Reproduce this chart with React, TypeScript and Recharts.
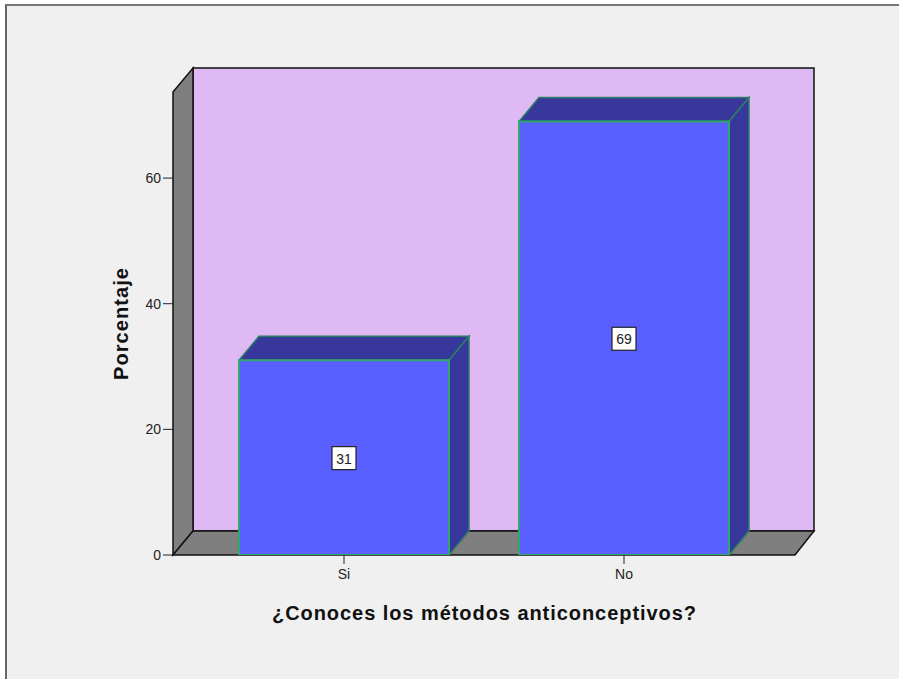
import React from "react";
import { ComposedChart, Bar, XAxis, YAxis, ReferenceArea, LabelList } from "recharts";

const categories = ["Si", "No"];
const percentages = [31, 69];
const yTicks = [0, 20, 40, 60];
const xTitle = "¿Conoces los métodos anticonceptivos?";
const yTitle = "Porcentaje";
const data = categories.map((name, i) => ({ name, value: percentages[i] }));

const DX = 20;
const DY = 24;
const FONT = "'Liberation Sans', Arial, sans-serif";

const Walls = (p: any) => {
  const { x, y, width: w, height: h } = p;
  const stroke = { stroke: "#111", strokeWidth: 1.5 };
  return (
    <g>
      <rect x={x + DX} y={y - DY} width={w - 1} height={h} fill="#dfb9f3" {...stroke} />
      <polygon points={`${x},${y} ${x + DX},${y - DY} ${x + DX},${y + h - DY} ${x},${y + h}`} fill="#7f7f7f" {...stroke} />
      <polygon points={`${x},${y + h} ${x + DX},${y + h - DY} ${x + w + DX - 1},${y + h - DY} ${x + w},${y + h}`} fill="#7f7f7f" {...stroke} />
    </g>
  );
};

const Bar3D = (p: any) => {
  const { x, y, width: w, height: h } = p;
  const back = { stroke: "#2a7f62", strokeWidth: 1.5 };
  return (
    <g>
      <polygon points={`${x},${y} ${x + DX},${y - DY} ${x + w + DX},${y - DY} ${x + w},${y}`} fill="#38389c" {...back} />
      <polygon points={`${x + w},${y} ${x + w + DX},${y - DY} ${x + w + DX},${y + h - DY} ${x + w},${y + h}`} fill="#38389c" {...back} />
      <rect x={x} y={y} width={w} height={h} fill="#5a60ff" stroke="#2fa86a" strokeWidth={2} />
    </g>
  );
};

const ValueBox = (p: any) => {
  const { x, y, width: w, height: h, value } = p;
  const cx = x + w / 2;
  const cy = y + h / 2;
  return (
    <g>
      <rect x={cx - 12} y={cy - 11} width={24} height={23} fill="#fff" stroke="#222" strokeWidth={1.2} />
      <text x={cx} y={cy + 6} textAnchor="middle" fontSize={14} fontFamily={FONT} fill="#222">{value}</text>
    </g>
  );
};

export default function App() {
  return (
    <div style={{ position: "absolute", left: 0, top: 0, width: 899, height: 679, background: "#fff", overflow: "hidden" }}>
      <div style={{ position: "absolute", left: 5, top: 4, width: 894, height: 675, background: "#f0f0f0", borderLeft: "2px solid #666", borderTop: "2px solid #777", boxSizing: "border-box" }} />
      <ComposedChart
        width={899}
        height={679}
        data={data}
        margin={{ top: 92, right: 104, bottom: 94, left: 113 }}
        style={{ position: "absolute", left: 0, top: 0 }}
      >
        <XAxis
          dataKey="name"
          tickSize={9}
          tickLine={{ stroke: "#222" }}
          axisLine={false}
          padding={{ left: 31, right: 31 }}
          tick={{ fontSize: 14, fontFamily: FONT, fill: "#222", dy: 3 }}
          height={30}
        />
        <YAxis
          domain={[0, 73.7]}
          ticks={yTicks}
          width={60}
          tickSize={10}
          tickLine={{ stroke: "#222" }}
          axisLine={false}
          tick={{ fontSize: 14, fontFamily: FONT, fill: "#222" }}
          allowDataOverflow
        />
        <ReferenceArea x1="Si" x2="No" y1={0} y2={73.7} shape={(p: any) => <Walls x={173} y={p.y} width={622} height={p.height} />} />
        <Bar dataKey="value" barSize={210} isAnimationActive={false} shape={<Bar3D />}>
          <LabelList dataKey="value" content={<ValueBox />} />
        </Bar>
        <text x={484} y={620} textAnchor="middle" fontSize={20} fontWeight={700} fontFamily={FONT} fill="#111" textLength={424}>{xTitle}</text>
        <text x={128} y={324} textAnchor="middle" fontSize={20} fontWeight={700} fontFamily={FONT} fill="#111" transform="rotate(-90 128 324)" textLength={112}>{yTitle}</text>
      </ComposedChart>
    </div>
  );
}
